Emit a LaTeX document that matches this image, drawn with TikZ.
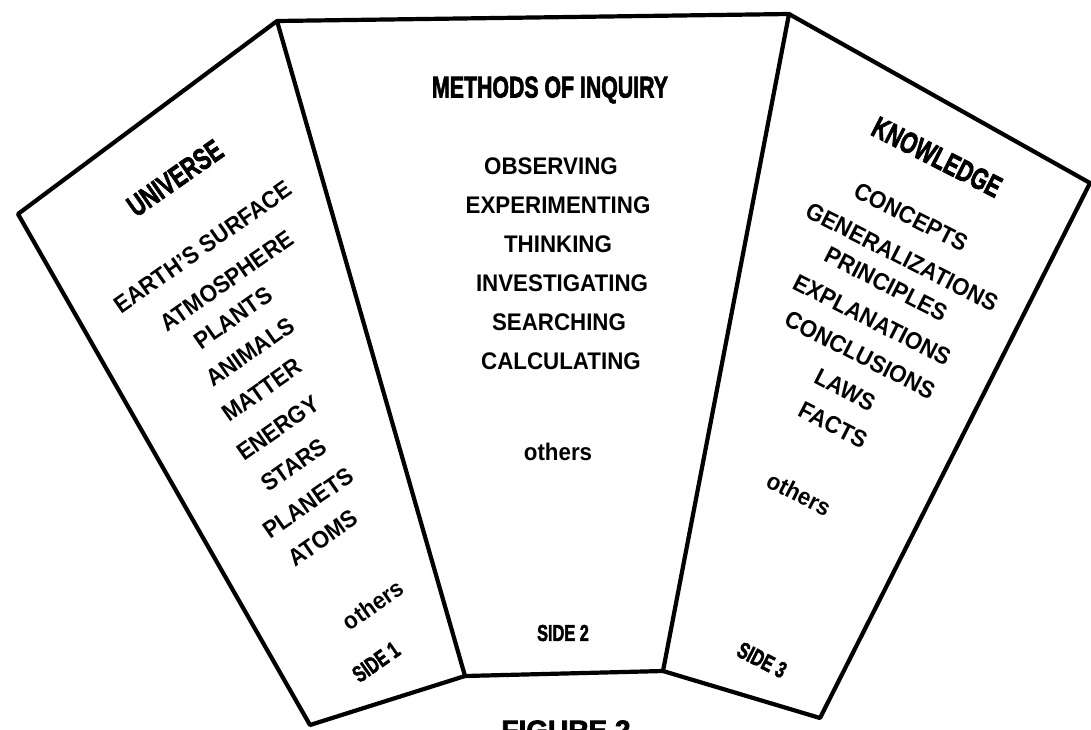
\documentclass[tikz,border=0pt]{standalone}
\usepackage{fontspec}
\usepackage{graphicx}
\setmainfont{Liberation Sans}
\newfontfamily\heavyfont{Liberation Sans}[FakeBold=2.6]
\newcommand{\hvy}[1]{\scalebox{0.71}[1]{#1}}
\newcommand{\itm}[1]{\scalebox{0.93}[1]{#1}}

\begin{document}
\begin{tikzpicture}[x=1pt, y=-1pt,
    panel/.style = {line width=4.2pt, line join=round},
    entry/.style = {font=\fontsize{24}{24}\selectfont\bfseries, inner sep=0pt},
    head/.style  = {font=\fontsize{30}{30}\selectfont\heavyfont\bfseries, inner sep=0pt},
    side/.style  = {font=\fontsize{23}{23}\selectfont\heavyfont\bfseries, inner sep=0pt}]
    \useasboundingbox (0,0) rectangle (1091,729);

    % corners of the three sides
    \coordinate (lt) at (18,214);
    \coordinate (a)  at (277,21);
    \coordinate (b)  at (789,14);
    \coordinate (rt) at (1090,183);
    \coordinate (rb) at (820,718);
    \coordinate (c)  at (663,671);
    \coordinate (d)  at (465,676);
    \coordinate (lb) at (310,725);

    \draw[panel] (lt) -- (a) -- (d) -- (lb) -- cycle;
    \draw[panel] (a) -- (b) -- (c) -- (d);
    \draw[panel] (b) -- (rt) -- (rb) -- (c);

    % side 1
    \node[head, rotate=35]  (universe) at (175,178) {\hvy{UNIVERSE}};
    \node[entry, rotate=35] (earth)    at (203,247) {\itm{EARTH'S SURFACE}};
    \node[entry, rotate=35] (atmos)    at (227,281) {\itm{ATMOSPHERE}};
    \node[entry, rotate=35] (plants)   at (233,318) {\itm{PLANTS}};
    \node[entry, rotate=35] (animals)  at (250,352) {\itm{ANIMALS}};
    \node[entry, rotate=35] (matter)   at (262,390) {\itm{MATTER}};
    \node[entry, rotate=35] (energy)   at (278,428) {\itm{ENERGY}};
    \node[entry, rotate=35] (stars)    at (294,465) {\itm{STARS}};
    \node[entry, rotate=35] (planets)  at (308,503) {\itm{PLANETS}};
    \node[entry, rotate=35] (atoms)    at (323,538) {\itm{ATOMS}};
    \node[entry, rotate=35] (others1)  at (373,605) {\itm{others}};
    \node[side, rotate=35]  (side1)    at (376,662) {\hvy{SIDE 1}};

    % side 2
    \node[head]  (methods)  at (550,90)  {\hvy{METHODS OF INQUIRY}};
    \node[entry] (observ)   at (551,166) {\itm{OBSERVING}};
    \node[entry] (experim)  at (558,205) {\itm{EXPERIMENTING}};
    \node[entry] (think)    at (558,244) {\itm{THINKING}};
    \node[entry] (invest)   at (562,283) {\itm{INVESTIGATING}};
    \node[entry] (search)   at (559,322) {\itm{SEARCHING}};
    \node[entry] (calc)     at (561,361) {\itm{CALCULATING}};
    \node[entry] (others2)  at (558,452) {\itm{others}};
    \node[side]  (side2)    at (563,633) {\hvy{SIDE 2}};

    % side 3
    \node[head, rotate=-27]  (knowl)    at (937,157) {\hvy{KNOWLEDGE}};
    \node[entry, rotate=-27] (concepts) at (911,217) {\itm{CONCEPTS}};
    \node[entry, rotate=-27] (general)  at (902,257) {\itm{GENERALIZATIONS}};
    \node[entry, rotate=-27] (princ)    at (886,284) {\itm{PRINCIPLES}};
    \node[entry, rotate=-27] (explan)   at (872,320) {\itm{EXPLANATIONS}};
    \node[entry, rotate=-27] (concl)    at (860,355) {\itm{CONCLUSIONS}};
    \node[entry, rotate=-27] (laws)     at (845,390) {\itm{LAWS}};
    \node[entry, rotate=-27] (facts)    at (833,425) {\itm{FACTS}};
    \node[entry, rotate=-27] (others3)  at (799,494) {\itm{others}};
    \node[side, rotate=-27]  (side3)    at (762,660) {\hvy{SIDE 3}};

    % caption, cut off by the page edge
    \node[font=\fontsize{28}{28}\selectfont\heavyfont\bfseries, anchor=base, inner sep=0pt]
        (caption) at (566,740) {FIGURE 2};
\end{tikzpicture}
\end{document}
